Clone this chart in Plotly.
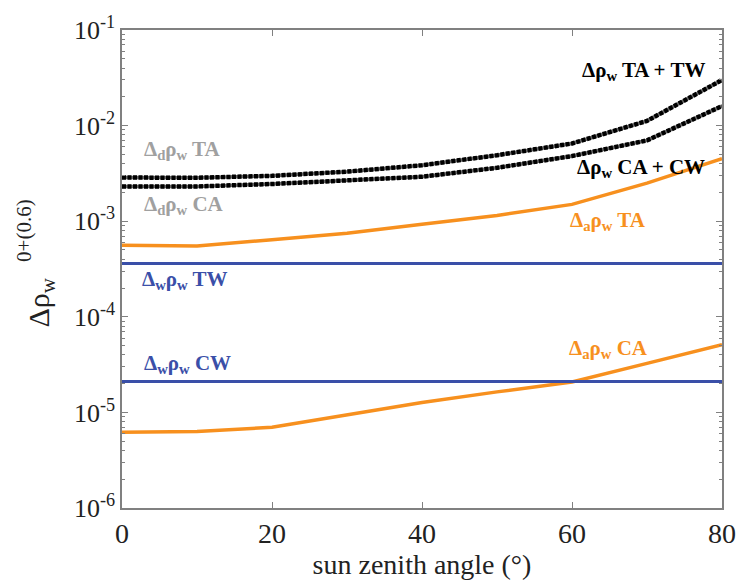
import plotly.graph_objects as go

sza = [0, 10, 20, 30, 40, 50, 60, 70, 80]
tot_ta = [2.86e-3, 2.85e-3, 2.98e-3, 3.3e-3, 3.85e-3, 4.9e-3, 6.5e-3, 1.12e-2, 3.0e-2]
tot_ca = [2.31e-3, 2.31e-3, 2.45e-3, 2.65e-3, 2.92e-3, 3.62e-3, 4.8e-3, 7.0e-3, 1.6e-2]
aer_ta = [5.6e-4, 5.5e-4, 6.4e-4, 7.5e-4, 9.3e-4, 1.15e-3, 1.5e-3, 2.5e-3, 4.5e-3]
aer_ca = [6.2e-6, 6.3e-6, 7.0e-6, 9.5e-6, 1.27e-5, 1.64e-5, 2.08e-5, 3.26e-5, 5.1e-5]
wat_tw = [3.6e-4] * len(sza)
wat_cw = [2.1e-5] * len(sza)

ytickvals = [1e-6, 1e-5, 1e-4, 1e-3, 1e-2, 1e-1]
yticktext = ["10<sup>-6</sup>", "10<sup>-5</sup>", "10<sup>-4</sup>",
             "10<sup>-3</sup>", "10<sup>-2</sup>", "10<sup>-1</sup>"]
yminor = [m * d for d in ytickvals[:-1] for m in range(2, 10)]
xtickvals = [0, 20, 40, 60, 80]

ORANGE = "#f7901e"
BLUE = "#3a4fa8"
GREY = "#a0a0a0"
FONT = "'Liberation Serif', 'Times New Roman', Times, serif"

fig = go.Figure()
for ys in (aer_ta, aer_ca):
    fig.add_trace(go.Scatter(x=sza, y=ys, mode="lines",
                             line=dict(color=ORANGE, width=3.5)))
for ys in (wat_tw, wat_cw):
    fig.add_trace(go.Scatter(x=sza, y=ys, mode="lines",
                             line=dict(color=BLUE, width=3)))
for ys in (tot_ta, tot_ca):
    fig.add_trace(go.Scatter(x=sza, y=ys, mode="lines",
                             line=dict(color="#666", width=3.5)))
    fig.add_trace(go.Scatter(x=sza, y=ys, mode="lines",
                             line=dict(color="black", width=4.5, dash="4px,1.5px")))

# (text, x, log10(y), colour, anchor)
labels = [
    ("Δ<sub>d</sub>ρ<sub>w</sub> TA", 2.7, -2.26, GREY, "left"),
    ("Δ<sub>d</sub>ρ<sub>w</sub> CA", 2.7, -2.83, GREY, "left"),
    ("Δρ<sub>w</sub> TA + TW", 78.0, -1.43, "black", "right"),
    ("Δρ<sub>w</sub> CA + CW", 78.0, -2.44, "black", "right"),
    ("Δ<sub>a</sub>ρ<sub>w</sub> TA", 59.4, -3.00, ORANGE, "left"),
    ("Δ<sub>w</sub>ρ<sub>w</sub> TW", 2.4, -3.61, BLUE, "left"),
    ("Δ<sub>w</sub>ρ<sub>w</sub> CW", 2.6, -4.49, BLUE, "left"),
    ("Δ<sub>a</sub>ρ<sub>w</sub> CA", 59.3, -4.34, ORANGE, "left"),
]
for txt, x, ly, col, anc in labels:
    fig.add_annotation(x=x, y=ly, yref="y", xref="x", text="<b>" + txt + "</b>",
                       showarrow=False, xanchor=anc, yanchor="middle",
                       font=dict(family=FONT, size=21, color=col))

# y-axis title with stacked sub/superscript
fig.add_annotation(xref="paper", yref="paper", x=-0.135, y=0.43,
                   text="Δρ<sub>w</sub>", textangle=-90, showarrow=False,
                   xanchor="center", yanchor="middle",
                   font=dict(family=FONT, size=30, color="#222"))
fig.add_annotation(xref="paper", yref="paper", x=-0.163, y=0.58,
                   text="0+(0.6)", textangle=-90, showarrow=False,
                   xanchor="center", yanchor="middle",
                   font=dict(family=FONT, size=21, color="#222"))

axis_common = dict(showline=True, linecolor="#808080", linewidth=1.5, mirror="ticks",
                   ticks="inside", tickcolor="#808080", showgrid=False, zeroline=False)

fig.update_xaxes(range=[0, 80], tickvals=xtickvals, ticklen=6,
                 tickfont=dict(family=FONT, size=28, color="#222"),
                 title=dict(text="sun zenith angle (°)", font=dict(family=FONT, size=28, color="#222"), standoff=4),
                 **axis_common)
fig.update_yaxes(type="log", range=[-6, -1], tickvals=ytickvals, ticktext=yticktext, ticklen=6,
                 tickfont=dict(family=FONT, size=26, color="#222"),
                 minor=dict(ticks="inside", ticklen=3, tickcolor="#808080", tickvals=yminor),
                 **axis_common)

fig.update_layout(width=748, height=585, margin=dict(l=122, r=15, t=25, b=73),
                  plot_bgcolor="white", paper_bgcolor="white", showlegend=False,
                  font=dict(family=FONT))

fig.write_html("out.html")
